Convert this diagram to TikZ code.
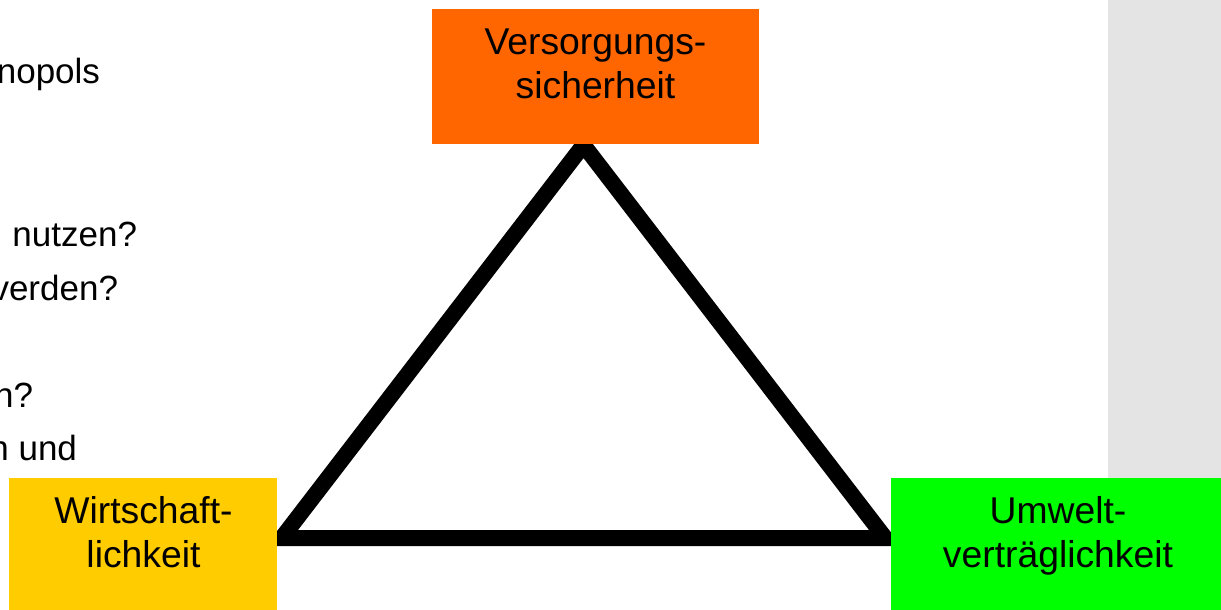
\documentclass[tikz,border=0pt]{standalone}
\usepackage{fontspec}
\setmainfont{Liberation Sans}
\definecolor{panelgray}{HTML}{E4E4E4}
\definecolor{supplyorange}{HTML}{FF6600}
\definecolor{costyellow}{HTML}{FFCC00}
\definecolor{ecogreen}{HTML}{00FF00}
\tikzset{
  goalbox/.style={draw=none, inner sep=0pt, outer sep=0pt},
  goaltext/.style={inner sep=0pt, outer sep=0pt, anchor=base,
    font=\fontsize{37.3}{44}\selectfont},
  sidetext/.style={inner sep=0pt, outer sep=0pt, anchor=base east,
    font=\fontsize{35}{54}\selectfont},
  edge/.style={line width=16pt, line join=miter, black}
}
\newcommand{\twolines}[2]{\begin{tabular}[t]{@{}c@{}}#1\\#2\end{tabular}}
\begin{document}
\begin{tikzpicture}[x=1pt, y=-1pt]
  \useasboundingbox (0,0) rectangle (1221,610);
  \clip (0,0) rectangle (1221,610);
  % grey side panel
  \fill[panelgray] (1108,0) rectangle (1221,610);
  % text column running off the left edge
  \node[sidetext] (t1) at (100,84) {nopols};
  \node[sidetext] (t2) at (137,246) {nutzen?};
  \node[sidetext] (t3) at (118,300.5) {verden?};
  \node[sidetext] (t4) at (33,407) {n?};
  \node[sidetext] (t5) at (77,460) {n und};
  % the energy triangle
  \coordinate (apex) at (583.5,145);
  \coordinate (lcorner) at (281.8,538);
  \coordinate (rcorner) at (885.2,538);
  \draw[edge] (apex) -- (lcorner) -- (rcorner) -- cycle;
  % goal boxes
  \node[goalbox, fill=supplyorange, minimum width=327pt, minimum height=135pt]
    (supply) at (595.5,76.5) {};
  \node[goalbox, fill=costyellow, minimum width=268pt, minimum height=132pt]
    (cost) at (143,544) {};
  \node[goalbox, fill=ecogreen, minimum width=330pt, minimum height=132pt]
    (eco) at (1056,544) {};
  \node[goaltext] (supplytext) at (595.5,55) {\twolines{Versorgungs-}{sicherheit}};
  \node[goaltext] (costtext) at (143.5,523) {\twolines{Wirtschaft-}{lichkeit}};
  \node[goaltext] (ecotext) at (1058,523) {\twolines{Umwelt-}{verträglichkeit}};
\end{tikzpicture}
\end{document}
